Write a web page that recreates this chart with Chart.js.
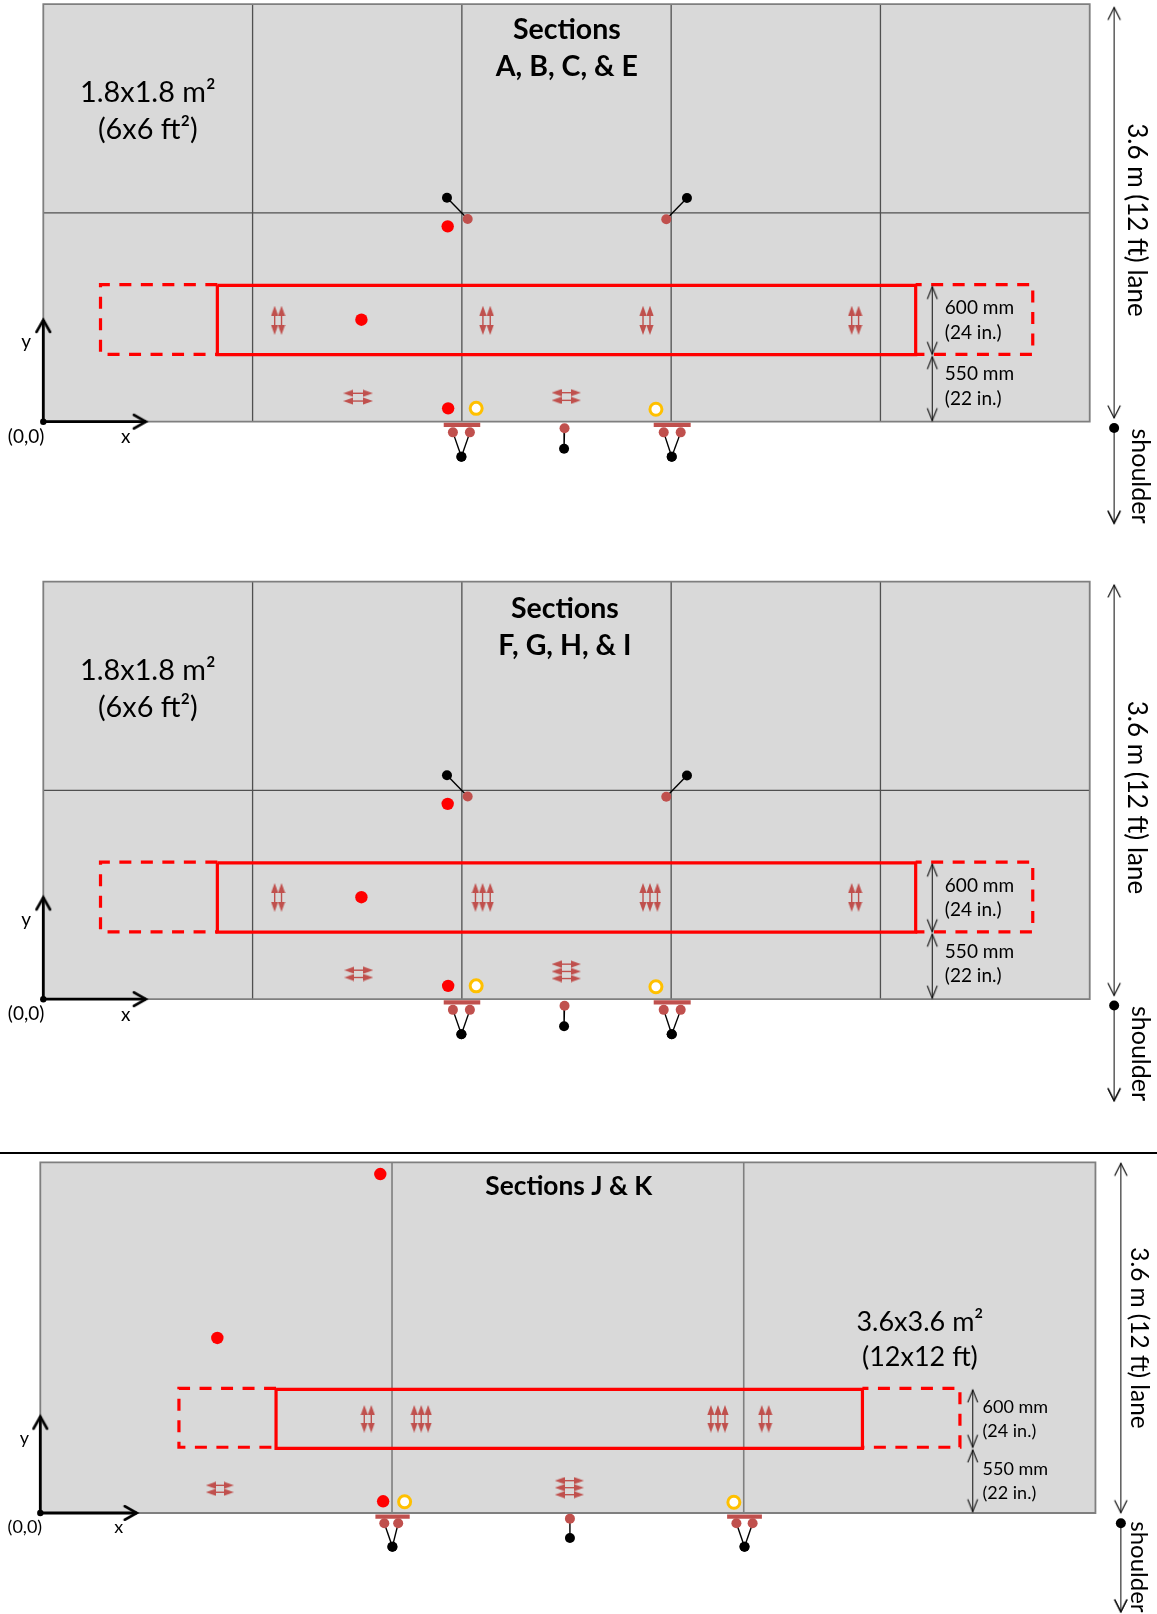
<!DOCTYPE html>
<html><head><meta charset="utf-8">
<script src="https://cdn.jsdelivr.net/npm/chart.js@4/dist/chart.umd.js"></script>
<style>
html,body{margin:0;padding:0;background:#fff;width:1157px;height:1614px;overflow:hidden}
canvas{position:absolute;left:0}
</style></head><body>
<canvas id="c1" width="1157" height="560" style="top:0"></canvas>
<canvas id="c2" width="1157" height="560" style="top:577px"></canvas>
<canvas id="c3" width="1157" height="464" style="top:1150px"></canvas>
<script>
// ---------- data, metres from the slab corner (0,0) ----------
// Sections A, B, C & E
const a_title = ['Sections', 'A, B, C, & E'];
const a_titleAt = [[4.503, 3.377], [4.503, 3.058]];
const a_jointsX = [1.8, 3.6, 5.4, 7.2];
const a_jointsY = [1.8];
const a_solid = [1.497, 7.503, 0.578, 1.176];
const a_dashed = [0.492, 8.51, 0.581, 1.181];
const a_longX = [1.990, 2.049, 3.781, 3.844, 5.158, 5.218, 6.953, 7.012];
const a_longY = [0.957, 0.791];
const a_transX = [[2.623, 2.792], [4.414, 4.581]];
const a_transY = [[0.245, 0.178], [0.250, 0.184]];
const a_redDots = [[3.478, 1.684], [2.736, 0.879], [3.482, 0.115]];
const a_yellowDots = [[3.723, 0.115], [5.269, 0.107]];

// Sections F, G, H & I
const f_title = ['Sections', 'F, G, H, & I'];
const f_titleAt = [[4.486, 3.365], [4.486, 3.046]];
const f_longX = [1.990, 2.049, 3.717, 3.778, 3.844, 5.158, 5.218, 5.282, 6.953, 7.012];
const f_longY = [0.959, 0.796];
const f_transX = [[2.632, 2.795], [4.414, 4.581]];
const f_transY = [[0.250, 0.187], [0.302, 0.239, 0.178]];

// shared by the two 1.8 m panels
const top_width = 9.0;
const top_sizeText = ['1.8x1.8 m²', '(6x6 ft²)'];
const top_sizeAt = [[0.899, 2.833], [0.899, 2.513]];
const top_upperBrown = [[3.650, 1.747], [5.358, 1.745]];
const top_upperBlack = [[3.472, 1.931], [5.536, 1.928]];
const top_plates = [[3.444, 3.758, -0.028], [5.250, 5.568, -0.028]];
const top_plateBrown = [[3.523, -0.092], [3.669, -0.092], [5.336, -0.092], [5.482, -0.092]];
const top_plateBlack = [[3.596, -0.302], [3.596, -0.302], [5.405, -0.302], [5.405, -0.302]];
const top_midBrown = [4.483, -0.057];
const top_midBlack = [4.479, -0.233];

// Sections J & K
const j_title = ['Sections J & K'];
const j_titleAt = [[5.410, 3.347]];
const j_width = 10.8;
const j_jointsX = [3.6, 7.2];
const j_solid = [2.413, 8.415, 0.664, 1.270];
const j_dashed = [1.419, 9.413, 0.675, 1.280];
const j_longX = [3.316, 3.388, 3.827, 3.899, 3.970, 6.864, 6.936, 7.008, 7.385, 7.456];
const j_longY = [1.058, 0.876];
const j_transX = [[1.746, 1.930], [5.318, 5.513]];
const j_transY = [[0.284, 0.213], [0.332, 0.260, 0.188]];
const j_redDots = [[3.480, 3.480], [1.812, 1.797], [3.509, 0.120]];
const j_yellowDots = [[3.729, 0.116], [7.099, 0.110]];
const j_sizeText = ['3.6x3.6 m²', '(12x12 ft)'];
const j_sizeAt = [[9.003, 1.954], [9.003, 1.595]];
const j_plates = [[3.430, 3.781, -0.038], [7.030, 7.386, -0.038]];
const j_plateBrown = [[3.521, -0.106], [3.663, -0.106], [7.125, -0.106], [7.291, -0.106]];
const j_plateBlack = [[3.604, -0.346], [3.604, -0.346], [7.208, -0.346], [7.208, -0.346]];
const j_midBrown = [5.421, -0.058];
const j_midBlack = [5.421, -0.257];

// dimension labels
const dimText = ['600 mm', '(24 in.)', '550 mm', '(22 in.)'];
const laneText = '3.6 m (12 ft) lane';
const shoulderText = 'shoulder';
const originText = '(0,0)';

// ---------- mark helpers ----------
const BROWN = '#c0504d', RED = '#ff0000', FONT = 'Lato, "Noto Sans", sans-serif';
const P = (a) => ({x: a[0], y: a[1]});

function headImage() {
  const c = document.createElement('canvas'); c.width = 8; c.height = 10;
  const g = c.getContext('2d'); g.fillStyle = BROWN;
  g.beginPath(); g.moveTo(4, 0); g.lineTo(7.6, 10); g.lineTo(0.4, 10); g.closePath(); g.fill();
  return c;
}
function chevronImage(hw, len, lw, col) {
  const w = Math.ceil(hw * 2 + 6), h = Math.ceil(len * 2 + 6);
  const c = document.createElement('canvas'); c.width = w; c.height = h;
  const g = c.getContext('2d'); g.strokeStyle = col; g.lineWidth = lw; g.lineCap = 'round'; g.lineJoin = 'miter';
  g.beginPath(); g.moveTo(w/2 - hw, h/2 + len); g.lineTo(w/2, h/2); g.lineTo(w/2 + hw, h/2 + len); g.stroke();
  return c;
}
const HEAD = headImage();
const AXIS_CHEV = chevronImage(6.8, 12, 2.6, '#000');
const DIM_CHEV = chevronImage(4.8, 12, 1.1, '#111');
const LANE_CHEV = chevronImage(6, 12, 1.2, '#111');

function seg(pts, col, w, extra) {
  return Object.assign({data: pts.map(P), showLine: true, borderColor: col, borderWidth: w, pointRadius: 0,
    tension: 0, fill: false, borderCapStyle: 'butt', borderJoinStyle: 'miter'}, extra || {});
}
function dots(pts, col, r, extra) {
  return Object.assign({data: pts.map(P), showLine: false, pointStyle: 'circle', pointRadius: r,
    pointBackgroundColor: col, pointBorderColor: col, pointBorderWidth: 0}, extra || {});
}
function arrow(a, b, rot, img, col, w) {
  return seg([a, b], col, w, {pointStyle: img, pointRadius: 5, pointRotation: rot});
}

function panelDatasets(o) {
  const ds = [];
  const h = 3.6;
  ds.push(seg([[0, h], [o.width, h]], 'rgba(0,0,0,0)', 0, {fill: {value: 0}, backgroundColor: '#d9d9d9'}));
  o.jointsX.forEach(x => ds.push(seg([[x, 0], [x, h]], o.jointCol, o.jointW)));
  o.jointsY.forEach(y => ds.push(seg([[0, y], [o.width, y]], o.jointCol, o.jointW)));
  ds.push(seg([[0, 0], [o.width, 0], [o.width, h], [0, h], [0, 0]], '#7f7f7f', 1.8));
  // wheel-path box
  const [sl, sr, sb, st] = o.solid, [dl, dr, db, dt] = o.dashed;
  ds.push(seg([[sl, dt], [dl, dt], [dl, db], [sl, db]], RED, 3.2, {borderDash: [12, 9.5]}));
  ds.push(seg([[sr, dt], [dr, dt], [dr, db], [sr, db]], RED, 3.2, {borderDash: [12, 9.5], borderDashOffset: 6}));
  ds.push(seg([[sl, st], [sr, st], [sr, sb], [sl, sb], [sl, st]], RED, 3.2));
  // gauges
  o.longX.forEach(x => ds.push(arrow([x, o.longY[0]], [x, o.longY[1]], [0, 180], HEAD, BROWN, 1.4)));
  o.transX.forEach((xs, i) => o.transY[i].forEach(y =>
    ds.push(arrow([xs[0], y], [xs[1], y], [270, 90], HEAD, BROWN, 1.4))));
  // leaders
  o.upperBrown.forEach((p, i) => ds.push(seg([p, o.upperBlack[i]], '#000', 1.4)));
  o.plateBrown.forEach((p, i) => ds.push(seg([p, o.plateBlack[i]], '#000', 1.4)));
  ds.push(seg([o.midBrown, o.midBlack], '#000', 1.4));
  o.plates.forEach(p => ds.push(seg([[p[0], p[2]], [p[1], p[2]]], BROWN, 4.2)));
  // sensors
  ds.push(dots(o.upperBrown.concat(o.plateBrown, [o.midBrown]), BROWN, 5));
  ds.push(dots(o.upperBlack.concat(o.plateBlack, [o.midBlack]), '#000', 5));
  ds.push(dots(o.redDots, RED, 6.2));
  ds.push(dots(o.yellowDots, '#ffffff', 6, {pointBorderColor: '#ffc000', pointBorderWidth: 3}));
  // dimension arrows
  ds.push(arrow([o.dimX, o.dim600[0]], [o.dimX, o.dim600[1]], [0, 180], DIM_CHEV, '#222', 1.1));
  ds.push(arrow([o.dimX, o.dim550[0]], [o.dimX, o.dim550[1]], [0, 180], DIM_CHEV, '#222', 1.1));
  ds.push(arrow([o.laneX, o.lane[0]], [o.laneX, o.lane[1]], [0, 180], LANE_CHEV, '#333', 1.2));
  ds.push(seg([[o.laneX, o.shoulder[0]], [o.laneX, o.shoulder[1]]], '#333', 1.2));
  ds.push(seg([[o.laneX, o.shoulder[1]], [o.laneX, o.shoulder[1]]], '#333', 0, {pointStyle: LANE_CHEV, pointRadius: 5, pointRotation: 180}));
  ds.push(dots([[o.laneX, o.shoulder[0]]], '#000', 5));
  // x, y axes of the coordinate system
  ds.push(seg([[0, 0], [0, o.axisLen[1]]], '#000', 2.8, {pointStyle: AXIS_CHEV, pointRadius: [0, 5], pointRotation: 0}));
  ds.push(seg([[0, 0], [o.axisLen[0], 0]], '#000', 2.8, {pointStyle: AXIS_CHEV, pointRadius: [0, 5], pointRotation: 90}));
  ds.push(dots([[0, 0]], '#000', 3.2));
  if (o.rule) ds.push(seg(o.rule, '#000', 2));
  return ds.reverse(); // Chart.js paints the first dataset last
}

const labelPlugin = {
  id: 'panelLabels',
  afterDatasetsDraw(chart, args, opts) {
    const ctx = chart.ctx, sx = chart.scales.x, sy = chart.scales.y;
    opts.items.forEach(t => {
      ctx.save();
      ctx.font = t.font; ctx.fillStyle = '#000';
      ctx.textAlign = t.align || 'center'; ctx.textBaseline = 'middle';
      ctx.translate(sx.getPixelForValue(t.at[0]), sy.getPixelForValue(t.at[1]));
      if (t.rot) ctx.rotate(t.rot);
      ctx.fillText(t.text, 0, 0);
      ctx.restore();
    });
  }
};

function draw(id, ranges, o, items) {
  new Chart(document.getElementById(id), {
    type: 'scatter',
    data: {datasets: panelDatasets(o)},
    plugins: [labelPlugin],
    options: {
      responsive: false, animation: false, devicePixelRatio: 1,
      layout: {padding: 0, autoPadding: false},
      events: [],
      clip: false,
      scales: {
        x: {type: 'linear', display: false, min: ranges[0], max: ranges[1]},
        y: {type: 'linear', display: false, min: ranges[2], max: ranges[3]}
      },
      plugins: {legend: {display: false}, tooltip: {enabled: false}, panelLabels: {items}}
    }
  });
}

function textItems(title, titleAt, titleFont, size, sizeAt, sizeFont, dimAt, dimFont, org, laneAt, shoulderAt, laneFont, shoulderFont) {
  const out = [];
  title.forEach((t, i) => out.push({text: t, at: titleAt[i], font: titleFont}));
  size.forEach((t, i) => out.push({text: t, at: sizeAt[i], font: sizeFont}));
  dimText.forEach((t, i) => out.push({text: t, at: dimAt[i], font: dimFont, align: 'left'}));
  out.push({text: originText, at: org[0], font: dimFont});
  out.push({text: 'x', at: org[1], font: dimFont});
  out.push({text: 'y', at: org[2], font: dimFont});
  out.push({text: laneText, at: laneAt, font: laneFont, rot: Math.PI / 2});
  out.push({text: shoulderText, at: shoulderAt, font: shoulderFont, rot: Math.PI / 2});
  return out;
}

const topCommon = {
  width: top_width, jointsX: a_jointsX, jointsY: a_jointsY, jointCol: '#505050', jointW: 1.3,
  upperBrown: top_upperBrown, upperBlack: top_upperBlack, plates: top_plates,
  plateBrown: top_plateBrown, plateBlack: top_plateBlack, midBrown: top_midBrown, midBlack: top_midBlack,
  solid: a_solid, dashed: a_dashed, redDots: a_redDots, yellowDots: a_yellowDots,
  dimX: 7.646, dim600: [1.164, 0.581], dim550: [0.560, 0.009],
  laneX: 9.21, lane: [3.571, 0.032], shoulder: [-0.054, -0.876], axisLen: [0.882, 0.877]
};
const a_ranges = [-0.3724, 9.5786, -1.1922, 3.6353];
const f_ranges = [-0.3724, 9.5786, -1.188, 3.6397];
const topDimAt = [[7.754, 0.980], [7.754, 0.767], [7.754, 0.411], [7.754, 0.198]];
const topOrg = [[-0.148, -0.129], [0.710, -0.132], [-0.148, 0.684]];
const TITLE = 'bold 28.5px ' + FONT, SIZE = '28.8px ' + FONT, DIM = '19px ' + FONT, LANE = '26px ' + FONT, SHOULDER = '25px ' + FONT;

draw('c1', a_ranges, Object.assign({}, topCommon, {longX: a_longX, longY: a_longY, transX: a_transX, transY: a_transY}),
  textItems(a_title, a_titleAt, TITLE, top_sizeText, top_sizeAt, SIZE, topDimAt, DIM, topOrg, [9.40, 1.739], [9.431, -0.468], LANE, SHOULDER));
draw('c2', f_ranges, Object.assign({}, topCommon, {longX: f_longX, longY: f_longY, transX: f_transX, transY: f_transY}),
  textItems(f_title, f_titleAt, TITLE, top_sizeText, top_sizeAt, SIZE, topDimAt, DIM, topOrg, [9.40, 1.739], [9.431, -0.468], LANE, SHOULDER));
draw('c3', [-0.4125, 11.430, -1.037, 3.727], {
  width: j_width, jointsX: j_jointsX, jointsY: [], jointCol: '#7f7f7f', jointW: 1.6,
  upperBrown: [], upperBlack: [], plates: j_plates,
  plateBrown: j_plateBrown, plateBlack: j_plateBlack, midBrown: j_midBrown, midBlack: j_midBlack,
  solid: j_solid, dashed: j_dashed, redDots: j_redDots, yellowDots: j_yellowDots,
  longX: j_longX, longY: j_longY, transX: j_transX, transY: j_transY,
  dimX: 9.544, dim600: [1.263, 0.675], dim550: [0.647, 0.013],
  laneX: 11.06, lane: [3.590, 0.003], shoulder: [-0.106, -1.016], axisLen: [0.987, 0.989],
  rule: [[-0.4125, 3.696], [11.430, 3.696]]
}, textItems(j_title, j_titleAt, 'bold 26.3px ' + FONT, j_sizeText, j_sizeAt, '27px ' + FONT,
  [[9.644, 1.085], [9.644, 0.842], [9.644, 0.449], [9.644, 0.202]], '18px ' + FONT,
  [[-0.158, -0.141], [0.802, -0.144], [-0.162, 0.773]], [11.24, 1.797], [11.24, -0.554], '24.4px ' + FONT, '24px ' + FONT));
</script>
</body></html>
